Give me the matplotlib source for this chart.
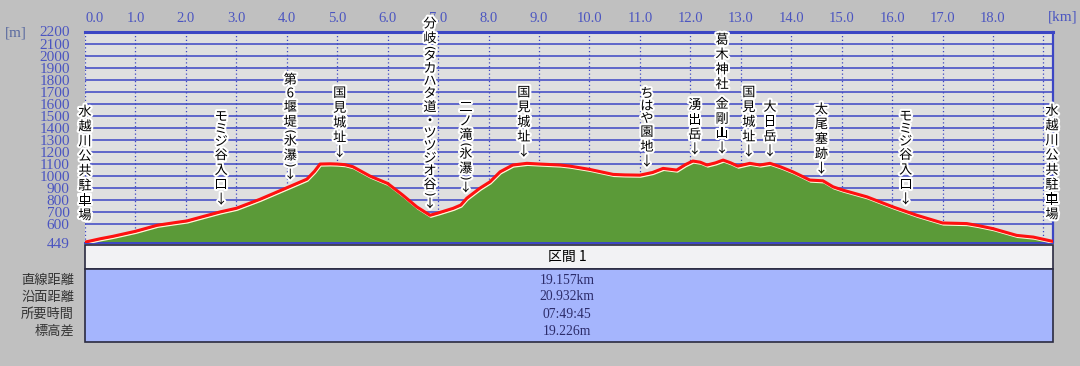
import numpy as np
import matplotlib
matplotlib.use("Agg")
import matplotlib.pyplot as plt
from matplotlib import patheffects as pe
from matplotlib.patches import Rectangle

# ---------------- data ----------------
dist_km = [0.0, 0.3, 0.55, 1.0, 1.43, 1.8, 2.02, 2.3, 2.68, 3.0, 3.47, 4.0, 4.4, 4.55,
           4.66, 4.86, 5.0, 5.15, 5.31, 5.65, 6.0, 6.3, 6.58, 6.84, 7.0, 7.3, 7.45,
           7.57, 7.83, 8.03, 8.23, 8.48, 8.76, 9.02, 9.42, 9.61, 10.0, 10.47, 10.7,
           11.0, 11.25, 11.46, 11.73, 11.9, 12.05, 12.2, 12.33, 12.5, 12.65, 12.8,
           12.94, 13.18, 13.38, 13.58, 13.8, 14.03, 14.17, 14.37, 14.63, 14.83, 15.03,
           15.5, 16.02, 16.49, 17.0, 17.48, 17.7, 18.0, 18.47, 18.8, 19.19]
elev_m = [452, 480, 500, 542, 592, 615, 628, 660, 703, 733, 808, 903, 975, 1040,
          1100, 1102, 1100, 1095, 1078, 1000, 939, 842, 744, 675, 694, 733, 760,
          817, 900, 953, 1036, 1092, 1106, 1100, 1092, 1083, 1056, 1014, 1010,
          1008, 1030, 1064, 1050, 1095, 1125, 1115, 1092, 1110, 1133, 1110,
          1083, 1106, 1092, 1106, 1075, 1036, 1008, 967, 961, 911, 883,
          828, 744, 675, 611, 606, 590, 564, 508, 494, 458]

label_names = ["水越川公共駐車場", "モミジ谷入口", "第6堰堤(氷瀑)", "国見城址",
               "分岐(タカハタ道・ツツジオ谷)", "二ノ滝(氷瀑)", "国見城址", "ちはや園地",
               "湧出岳", "葛木神社 金剛山", "国見城址", "大日岳", "太尾塞跡",
               "モミジ谷入口", "水越川公共駐車場"]
label_km = [0.0, 2.70, 4.07, 5.05, 6.84, 7.55, 8.70, 11.14, 12.09, 12.63, 13.16,
            13.58, 14.60, 16.27, 19.17]
label_arrow = [False, True, True, True, True, True, True, True, True, True, True,
               True, True, True, False]

ytick_vals = [449] + list(range(600, 2201, 100))
xtick_vals = list(range(0, 20))
xtick_labels = [f"{v}.0" for v in range(0, 19)] + [""]

section_title = "区間 1"
summary_names = ["直線距離", "沿面距離", "所要時間", "標高差"]
summary_values = ["19.157km", "20.932km", "07:49:45", "19.226m"]

# ---------------- style ----------------
W, H = 1080, 366
BG = "#c0c0c0"
PLOT_BG = "#dfdfdf"
GRID_BLUE = "#3c46c4"
TICK_BLUE = "#4b55c0"
GREEN = "#5b9a38"
RED = "#ff1010"
TABLE_BLUE = "#a5b5fd"
CJK = ["Noto Sans CJK JP", "DejaVu Sans"]
SERIF = ["Liberation Serif", "DejaVu Serif"]


def fx(px):
    return px / W


def fy(py):
    return 1 - py / H


fig = plt.figure(figsize=(W / 100, H / 100), dpi=100, facecolor=BG)

left, right, top, bottom = 85, 1053, 31.5, 242.5
ax = fig.add_axes([fx(left), fy(bottom), fx(right) - fx(left), fy(top) - fy(bottom)])
ax.set_facecolor(PLOT_BG)
XMAX = 19.19
ax.set_xlim(0, XMAX)
ax.set_ylim(449, 2200)

# ticks & grid
ax.set_yticks(ytick_vals)
ax.set_yticklabels([str(v) for v in ytick_vals], fontfamily=SERIF, fontsize=11,
                   color=TICK_BLUE)
ax.set_xticks(xtick_vals)
ax.set_xticklabels(xtick_labels, fontfamily=SERIF, fontsize=10.5, color=TICK_BLUE)
ax.xaxis.tick_top()
ax.tick_params(axis="y", length=0, pad=11)
ax.tick_params(axis="x", length=0, pad=5)
ax.get_xticklabels()[0].set_horizontalalignment("left")
ax.grid(axis="y", color=GRID_BLUE, lw=1.1, ls="-", zorder=1)
ax.grid(axis="x", color=GRID_BLUE, lw=0.9, ls=(0, (1, 2)), zorder=1)
ax.set_axisbelow(True)
ax.spines["left"].set_visible(False)
ax.spines["top"].set_color(GRID_BLUE)
ax.spines["top"].set_linewidth(2.2)
ax.spines["right"].set_color(GRID_BLUE)
ax.spines["right"].set_linewidth(1.6)
ax.spines["bottom"].set_color(GRID_BLUE)
ax.spines["bottom"].set_linewidth(1.4)

# profile
ax.fill_between(dist_km, elev_m, 449, color=GREEN, zorder=2, lw=0)
ax.plot(dist_km, elev_m, color=RED, lw=2.2, zorder=3, solid_joinstyle="round",
        path_effects=[pe.Stroke(offset=(0.6, -1.3), linewidth=1.2, foreground="#fff6d8"),
                      pe.Normal()])

# unit labels
fig.text(fx(16), fy(33), "[m]", fontfamily=SERIF, fontsize=11, color="#5a6aa0",
         ha="center", va="center")
fig.text(fx(1063), fy(17), "[km]", fontfamily=SERIF, fontsize=11, color=TICK_BLUE,
         ha="center", va="center")

# vertical labels (characters stacked top to bottom)
PX = 0.72  # points per pixel at 100 dpi
halo = [pe.withStroke(linewidth=3, foreground="white")]


def slot(ch):
    if ch in "()":
        return 4.0
    if ch == " ":
        return 5.0
    if "\u4e00" <= ch <= "\u9fff":
        return 14.8
    return 12.5


for name, km, arrow in zip(label_names, label_km, label_arrow):
    base = float(np.interp(km, dist_km, elev_m))
    cur = 4.5
    if arrow:
        ax.annotate("↓", xy=(km, base), xytext=(0, (cur + 7) * PX),
                    textcoords="offset points", ha="center", va="center",
                    fontsize=9.5, fontfamily=CJK, color="black",
                    path_effects=halo, zorder=5, annotation_clip=False)
    cur += 14.5
    for ch in reversed(name):
        h = slot(ch)
        yoff = (cur + h / 2) * PX
        if ch in "()":
            ax.annotate(ch, xy=(km, base), xytext=(0, yoff), textcoords="offset points",
                        ha="center", va="center", rotation=-90, fontsize=8.5,
                        fontfamily=["DejaVu Sans"], color="black",
                        path_effects=halo, zorder=5, annotation_clip=False)
        elif ch != " ":
            ax.annotate(ch, xy=(km, base), xytext=(0, yoff), textcoords="offset points",
                        ha="center", va="center", fontsize=9.5, fontfamily=CJK,
                        color="black", path_effects=halo, zorder=5,
                        annotation_clip=False)
        cur += h

# table: section header row
fig.add_artist(Rectangle((fx(left), fy(268.5)), fx(right) - fx(left), fy(245) - fy(268.5),
                         transform=fig.transFigure, facecolor="#f2f2f4", edgecolor="#2a2a40",
                         lw=1.2))
fig.text(fx(567), fy(257), section_title, fontfamily=CJK, fontsize=10, color="black",
         ha="center", va="center")
# summary block
fig.add_artist(Rectangle((fx(left), fy(342)), fx(right) - fx(left), fy(269) - fy(342),
                         transform=fig.transFigure, facecolor=TABLE_BLUE, edgecolor="#2a2a40",
                         lw=1.2))
row_y = [280, 297, 314, 331.5]
for name, val, yy in zip(summary_names, summary_values, row_y):
    fig.text(fx(74), fy(yy), name, fontfamily=CJK, fontsize=9.5, color="#333333",
             ha="right", va="center")
    fig.text(fx(567), fy(yy), val, fontfamily=SERIF, fontsize=9.8, color="#2c2c6a",
             ha="center", va="center")

fig.savefig("out.png", dpi=100, facecolor=BG)
